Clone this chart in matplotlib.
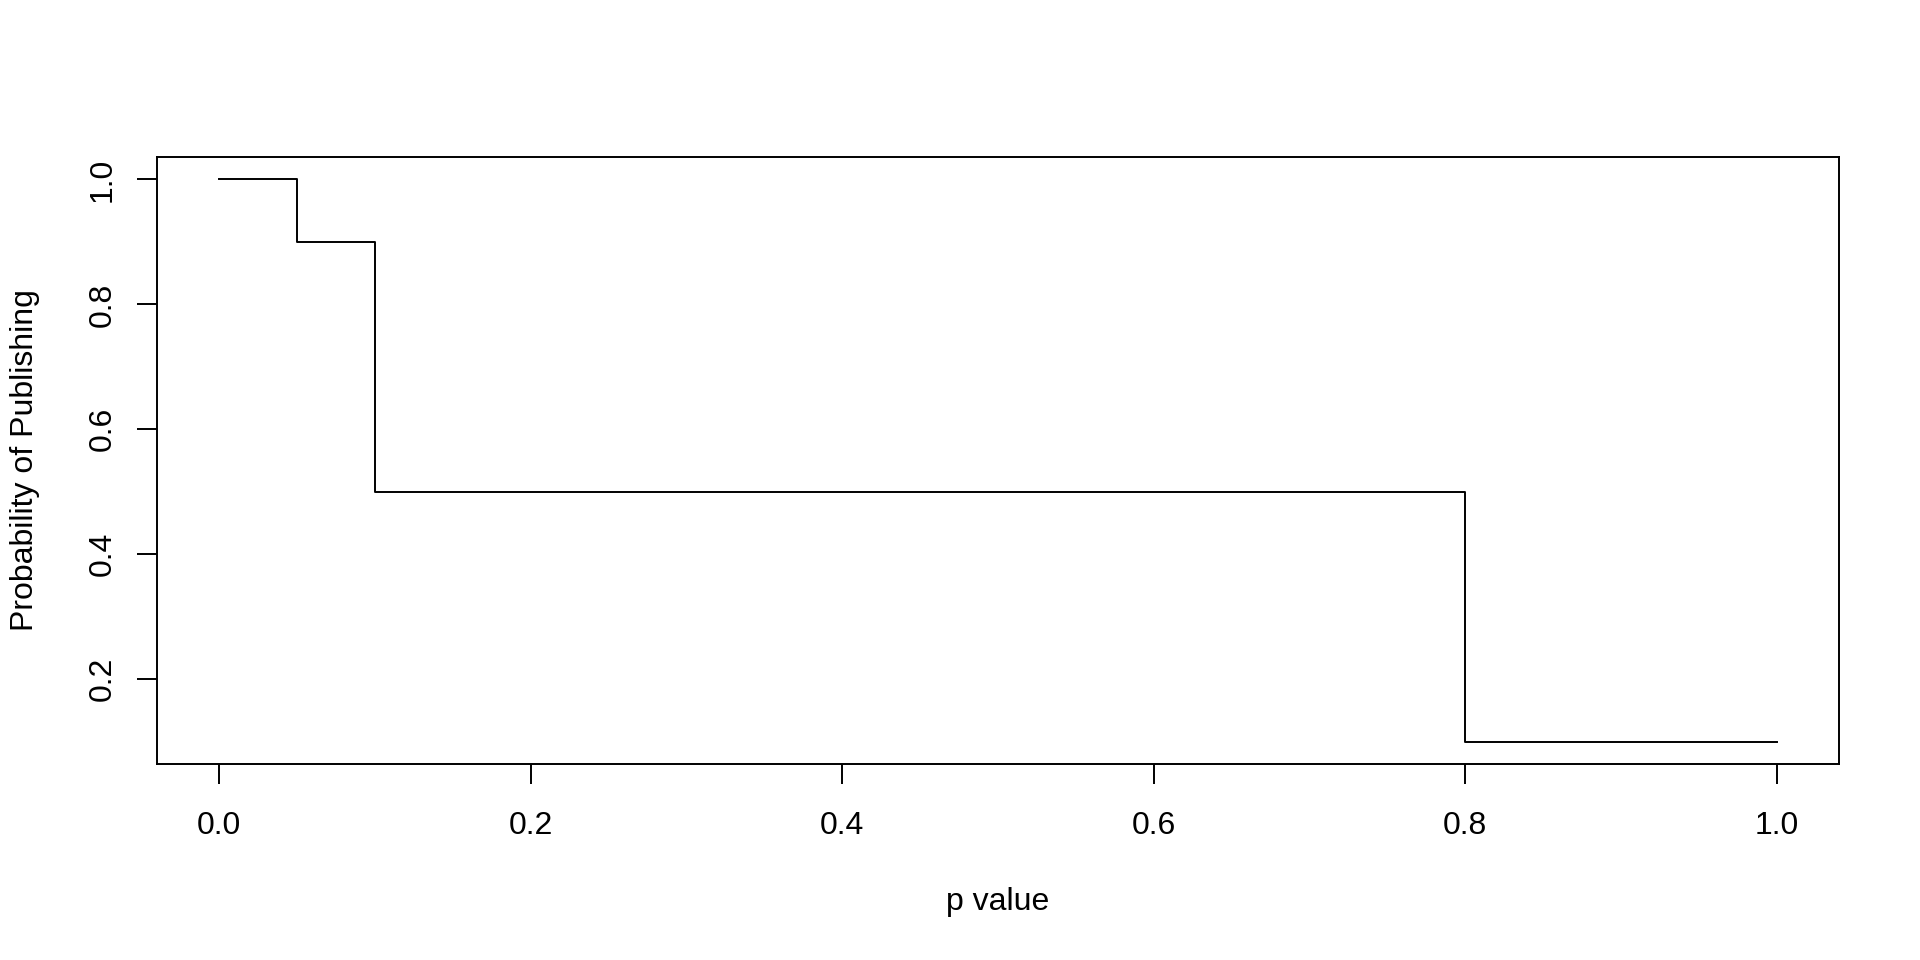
import matplotlib
matplotlib.use("Agg")
import matplotlib.pyplot as plt

p_values = [0.0, 0.05, 0.1, 0.8, 1.0]
prob_publish = [1.0, 0.9, 0.5, 0.1, 0.1]
x_ticks = [0.0, 0.2, 0.4, 0.6, 0.8, 1.0]
y_ticks = [0.2, 0.4, 0.6, 0.8, 1.0]

plt.rcParams['font.family'] = ['Liberation Sans', 'DejaVu Sans']
W, H = 1920, 960
fig = plt.figure(figsize=(19.2, 9.6), dpi=100)
l, r, t, b = 157, 1839, 157, 764
ax = fig.add_axes([l / W, 1 - b / H, (r - l) / W, (b - t) / H])

ax.step(p_values, prob_publish, where='post', color='black', lw=1.4)

xr = max(p_values) - min(p_values)
ax.set_xlim(min(p_values) - 0.04 * xr, max(p_values) + 0.04 * xr)
yr = max(prob_publish) - min(prob_publish)
ax.set_ylim(min(prob_publish) - 0.04 * yr, max(prob_publish) + 0.04 * yr)

ax.set_xticks(x_ticks)
ax.set_xticklabels([f"{v:.1f}" for v in x_ticks])
ax.set_yticks(y_ticks)
ax.set_yticklabels([f"{v:.1f}" for v in y_ticks], rotation=90, va='center')

for s in ax.spines.values():
    s.set_linewidth(1.4)
ax.tick_params(length=14.5, width=1.4, labelsize=23, pad=19)
ax.tick_params(axis='y', pad=14)

fig.text(998 / W, 1 - 902 / H, "p value", ha='center', va='center', fontsize=23)
fig.text(25 / W, 1 - 460 / H, "Probability of Publishing", rotation=90,
         ha='center', va='center', fontsize=23)

fig.savefig("out.png", dpi=100)
